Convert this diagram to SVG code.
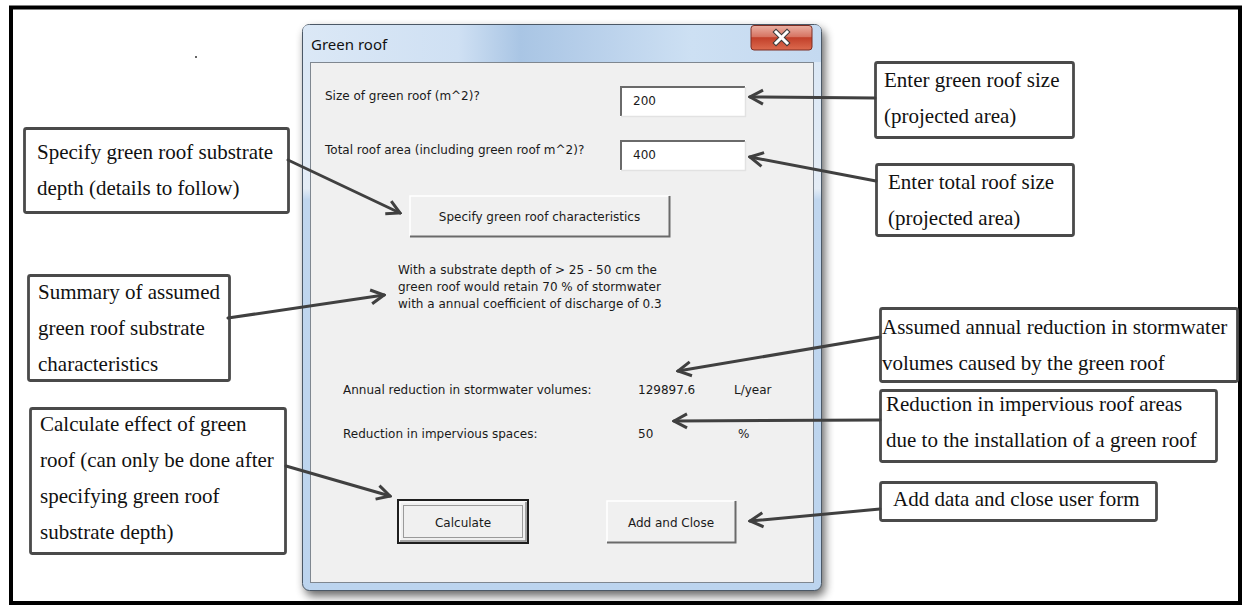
<svg xmlns="http://www.w3.org/2000/svg" width="1246" height="607" viewBox="0 0 1246 607">
  <style>
    .ui { font-family: "DejaVu Sans", "Liberation Sans", sans-serif; font-size: 12px; fill: #1a1a1a; }
    .title { font-family: "Noto Sans", "Open Sans", sans-serif; font-size: 15px; fill: #111; }
    .note { font-family: "Liberation Serif", "Times New Roman", serif; font-size: 21px; fill: #111; }
    .callout { fill: #fff; stroke: #4a4a4a; stroke-width: 2.8; }
    .conn { fill: none; stroke: #404040; stroke-width: 3; stroke-linecap: round; }
    .btn { fill: #f0f0f0; }
    .hi { stroke: #ffffff; stroke-width: 1.5; fill: none; }
    .lo { stroke: #6a6a6a; stroke-width: 2; fill: none; }
  </style>
  <defs>
    <marker id="chev" viewBox="-16 -9 18 18" markerWidth="18" markerHeight="18" refX="0" refY="0" orient="auto" markerUnits="userSpaceOnUse">
      <path d="M-13,-7 L0,0 L-13,7" fill="none" stroke="#404040" stroke-width="3" stroke-linejoin="miter"/>
    </marker>
    <filter id="shadow" x="-10%" y="-10%" width="125%" height="125%">
      <feGaussianBlur stdDeviation="5"/>
    </filter>
    <linearGradient id="frameFill" x1="0" y1="0" x2="0" y2="1">
      <stop offset="0" stop-color="#d8e6f5"/>
      <stop offset="0.29" stop-color="#e4ecf5"/>
      <stop offset="0.31" stop-color="#c0d6ee"/>
      <stop offset="1" stop-color="#bcd4ee"/>
    </linearGradient>
    <linearGradient id="titleFill" x1="0" y1="0" x2="1" y2="0">
      <stop offset="0" stop-color="#dbe8f6"/>
      <stop offset="0.3" stop-color="#cfe0f3"/>
      <stop offset="0.42" stop-color="#a9c5e4"/>
      <stop offset="0.55" stop-color="#b7cfea"/>
      <stop offset="0.75" stop-color="#cde0f3"/>
      <stop offset="1" stop-color="#c4d9f0"/>
    </linearGradient>
    <linearGradient id="closeFill" x1="0" y1="0" x2="0" y2="1">
      <stop offset="0" stop-color="#eab1a4"/>
      <stop offset="0.45" stop-color="#d77563"/>
      <stop offset="0.5" stop-color="#c2402a"/>
      <stop offset="1" stop-color="#dc6b4f"/>
    </linearGradient>
  </defs>

  <!-- page frame -->
  <rect x="0" y="0" width="1246" height="607" fill="#ffffff"/>
  <rect x="11" y="7.5" width="1229" height="595.5" fill="none" stroke="#000" stroke-width="4"/>
  <circle cx="196" cy="57" r="1" fill="#333"/>

  <!-- user form window -->
  <g id="dialog">
    <rect x="305" y="29" width="520" height="567" rx="8" fill="#000" opacity="0.6" filter="url(#shadow)"/>
    <rect x="302.5" y="24.5" width="519" height="566" rx="7" fill="url(#frameFill)" stroke="#4b5866" stroke-width="1"/>
    <path d="M303,62 V31 Q303,25 309,25 H815 Q821,25 821,31 V62 Z" fill="url(#titleFill)"/>
    <text class="title" x="311" y="50">Green roof</text>
    <g id="close-button">
      <rect x="751" y="25.5" width="61" height="24.5" rx="3" fill="url(#closeFill)" stroke="#7d2d22" stroke-width="1"/>
      <path d="M776,32 L787,43 M787,32 L776,43" stroke="#3b3b3b" stroke-width="5" stroke-linecap="square"/>
      <path d="M776,32 L787,43 M787,32 L776,43" stroke="#ffffff" stroke-width="3" stroke-linecap="square"/>
    </g>
    <rect x="310.5" y="62.5" width="503" height="520" fill="#f0f0f0" stroke="#7f8790" stroke-width="1"/>
  </g>

  <!-- inputs -->
  <g id="green-roof-size">
    <text class="ui" x="325" y="100">Size of green roof (m^2)?</text>
    <rect x="620" y="86" width="126" height="31" fill="#fff"/>
    <path d="M621,116 V87 H745" class="lo"/>
    <path d="M621,116.5 H745.5 V87" stroke="#e2e2e2" stroke-width="1.5" fill="none"/>
    <text class="ui" x="633" y="105">200</text>
  </g>
  <g id="total-roof-area">
    <text class="ui" x="325" y="154">Total roof area (including green roof m^2)?</text>
    <rect x="620" y="140" width="126" height="31" fill="#fff"/>
    <path d="M621,170 V141 H745" class="lo"/>
    <path d="M621,170.5 H745.5 V141" stroke="#e2e2e2" stroke-width="1.5" fill="none"/>
    <text class="ui" x="633" y="159">400</text>
  </g>

  <g id="specify-button">
    <rect class="btn" x="409" y="195" width="261" height="42"/>
    <path class="hi" d="M410,236 V196 H669"/>
    <path class="lo" d="M410,236.5 H669.5 V196"/>
    <text class="ui" x="539.5" y="221" text-anchor="middle">Specify green roof characteristics</text>
  </g>

  <g id="substrate-summary">
    <text class="ui" x="398" y="274">With a substrate depth of &gt; 25 - 50 cm the</text>
    <text class="ui" x="398" y="291">green roof would retain 70 % of stormwater</text>
    <text class="ui" x="398" y="308">with a annual coefficient of discharge of 0.3</text>
  </g>

  <g id="annual-reduction">
    <text class="ui" x="343" y="394">Annual reduction in stormwater volumes:</text>
    <text class="ui" x="638" y="394">129897.6</text>
    <text class="ui" x="734" y="394">L/year</text>
  </g>
  <g id="impervious-reduction">
    <text class="ui" x="343" y="438">Reduction in impervious spaces:</text>
    <text class="ui" x="638" y="438">50</text>
    <text class="ui" x="738" y="438">%</text>
  </g>

  <g id="calculate-button">
    <rect class="btn" x="398" y="500" width="130" height="43" stroke="#1e1e1e" stroke-width="2"/>
    <path d="M400,541 V502 H526" stroke="#ffffff" stroke-width="1.2" fill="none"/>
    <path d="M400,541 H526 V502" stroke="#8a8a8a" stroke-width="1.5" fill="none"/>
    <rect x="403.5" y="505.5" width="119" height="32" fill="none" stroke="#444" stroke-width="1" stroke-dasharray="1 1"/>
    <text class="ui" x="463" y="527" text-anchor="middle">Calculate</text>
  </g>
  <g id="add-close-button">
    <rect class="btn" x="606" y="500" width="130" height="43"/>
    <path class="hi" d="M607,542 V501 H735"/>
    <path class="lo" d="M607,542.5 H735.5 V501"/>
    <text class="ui" x="671" y="527" text-anchor="middle">Add and Close</text>
  </g>

  <!-- explanatory callouts -->
  <g id="note-specify">
    <rect class="callout" x="24.5" y="128.5" width="264" height="84" rx="2"/>
    <text class="note" x="37" y="159">Specify green roof substrate</text>
    <text class="note" x="37" y="195">depth (details to follow)</text>
  </g>
  <g id="note-summary">
    <rect class="callout" x="28.5" y="275.5" width="201" height="105" rx="2"/>
    <text class="note" x="38" y="299">Summary of assumed</text>
    <text class="note" x="38" y="335">green roof substrate</text>
    <text class="note" x="38" y="371">characteristics</text>
  </g>
  <g id="note-calculate">
    <rect class="callout" x="30.5" y="408.5" width="255" height="145" rx="2"/>
    <text class="note" x="40" y="431">Calculate effect of green</text>
    <text class="note" x="40" y="467">roof (can only be done after</text>
    <text class="note" x="40" y="503">specifying green roof</text>
    <text class="note" x="40" y="539">substrate depth)</text>
  </g>
  <g id="note-green-size">
    <rect class="callout" x="875.5" y="62.5" width="198" height="75" rx="2"/>
    <text class="note" x="884" y="87">Enter green roof size</text>
    <text class="note" x="884" y="123">(projected area)</text>
  </g>
  <g id="note-total-size">
    <rect class="callout" x="876.5" y="164.5" width="197" height="71" rx="2"/>
    <text class="note" x="888" y="189">Enter total roof size</text>
    <text class="note" x="888" y="225">(projected area)</text>
  </g>
  <g id="note-annual">
    <rect class="callout" x="880.5" y="308.5" width="357" height="73" rx="2"/>
    <text class="note" x="882" y="334">Assumed annual reduction in stormwater</text>
    <text class="note" x="882" y="370">volumes caused by the green roof</text>
  </g>
  <g id="note-impervious">
    <rect class="callout" x="880.5" y="390.5" width="336" height="71" rx="2"/>
    <text class="note" x="886" y="411">Reduction in impervious roof areas</text>
    <text class="note" x="886" y="447">due to the installation of a green roof</text>
  </g>
  <g id="note-add-close">
    <rect class="callout" x="880.5" y="482.5" width="276" height="38" rx="2"/>
    <text class="note" x="893" y="506">Add data and close user form</text>
  </g>

  <!-- connectors -->
  <g id="connectors">
    <path class="conn" d="M288,160 L400,213" marker-end="url(#chev)"/>
    <path class="conn" d="M228,318 L384,295" marker-end="url(#chev)"/>
    <path class="conn" d="M286,466 L390,496" marker-end="url(#chev)"/>
    <path class="conn" d="M875,98 L750,97" marker-end="url(#chev)"/>
    <path class="conn" d="M876,181 L750,157" marker-end="url(#chev)"/>
    <path class="conn" d="M880,337 L678,371" marker-end="url(#chev)"/>
    <path class="conn" d="M880,420 L674,421" marker-end="url(#chev)"/>
    <path class="conn" d="M880,509 L750,521" marker-end="url(#chev)"/>
  </g>
</svg>
